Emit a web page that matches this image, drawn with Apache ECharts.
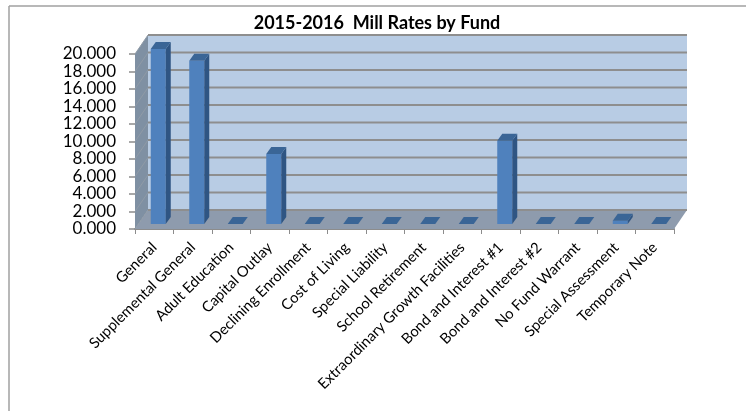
<!DOCTYPE html>
<html><head><meta charset="utf-8">
<style>html,body{margin:0;padding:0;background:#fff}#c{width:746px;height:411px}</style>
<script src="https://cdn.jsdelivr.net/npm/echarts@6/dist/echarts.min.js"></script>
</head><body><div id="c"></div>
<script>
const titleText = '2015-2016  Mill Rates by Fund';
const categories = ['General','Supplemental General','Adult Education','Capital Outlay','Declining Enrollment','Cost of Living','Special Liability','School Retirement','Extraordinary Growth Facilities','Bond and Interest #1','Bond and Interest #2','No Fund Warrant','Special Assessment','Temporary Note'];
const millRates = [20.0,18.66,0,8.0,0,0,0,0,0,9.52,0,0,0.38,0];
const yTicks = [0,2,4,6,8,10,12,14,16,18,20];

const WALL_DX = 13, WALL_DY = -19;
const BAR_OX = 4, BAR_OY = -5, BAR_W = 15, BAR_DX = 5, BAR_DY = -7;
const chart = echarts.init(document.getElementById('c'), null, {renderer:'canvas'});
const font = 'Lato';

function poly(points, fill, z2){
  return {type:'polygon', shape:{points}, style:{fill, stroke:null}, z2:z2||0};
}
function renderWalls(params, api){
  const c = params.coordSys;
  const l=c.x, r=c.x+c.width, t=c.y, b=c.y+c.height;
  return {type:'group', children:[
    poly([[l+WALL_DX,t+WALL_DY],[r+WALL_DX,t+WALL_DY],[r+WALL_DX,b+WALL_DY],[l+WALL_DX,b+WALL_DY]],'#b8cce4'),
    poly([[l,b],[l+WALL_DX,b+WALL_DY],[l+WALL_DX,t+WALL_DY],[l,t]],'#7f90a3'),
    poly([[l,b],[r,b],[r+WALL_DX,b+WALL_DY],[l+WALL_DX,b+WALL_DY]],'#8e9bad')
  ]};
}
function renderGrid(params, api){
  const c = params.coordSys;
  const y = api.coord([0, api.value(0)])[1];
  const l=c.x, r=c.x+c.width;
  return {type:'group', children:[
    {type:'line', shape:{x1:l,y1:y,x2:l+WALL_DX,y2:y+WALL_DY}, style:{stroke:'#8f9aa6',lineWidth:1}},
    {type:'line', shape:{x1:l+WALL_DX,y1:y+WALL_DY,x2:r+WALL_DX,y2:y+WALL_DY}, style:{stroke:'#8e8e8e',lineWidth:1.8}}
  ]};
}
function renderBar(params, api){
  const p0 = api.coord([api.value(0), 0]);
  const p1 = api.coord([api.value(0), api.value(1)]);
  const x0 = p0[0]+BAR_OX-BAR_W/2, x1 = x0+BAR_W;
  const yb = p0[1]+BAR_OY, yt = p1[1]+BAR_OY;
  const kids = [];
  if (yb-yt > 0.5){
    kids.push(poly([[x0,yb],[x1,yb],[x1,yt],[x0,yt]],'#4f81bd'));
    kids.push(poly([[x1,yb],[x1+BAR_DX,yb+BAR_DY],[x1+BAR_DX,yt+BAR_DY],[x1,yt]],'#2f5583'));
  }
  kids.push(poly([[x0,yt],[x1,yt],[x1+BAR_DX,yt+BAR_DY],[x0+BAR_DX,yt+BAR_DY]],'#3a6596'));
  return {type:'group', children:kids};
}
chart.setOption({
  animation:false,
  backgroundColor:'#ffffff',
  title:{text:titleText, left:372, top:9, textAlign:'center',
    textStyle:{fontFamily:font,fontSize:18,fontWeight:'bold',color:'#000'}},
  grid:{left:135,right:72,top:54,bottom:182,containLabel:false},
  xAxis:{type:'category',data:categories,
    axisLine:{show:true,onZero:false,lineStyle:{color:'#8c8c8c',width:2}},
    axisTick:{show:true,length:5,alignWithLabel:false,lineStyle:{color:'#8c8c8c',width:1}},
    axisLabel:{interval:0,rotate:45,margin:16,fontFamily:font,fontSize:14.8,color:'#000',hideOverlap:false},
    splitLine:{show:false}},
  yAxis:{type:'value',min:0,max:20,interval:2,
    axisLine:{show:true,lineStyle:{color:'#8c8c8c',width:1}},
    axisTick:{show:true,length:6,lineStyle:{color:'#8c8c8c',width:1.5}},
    axisLabel:{margin:19,fontFamily:font,fontSize:17,color:'#000',formatter:v=>v.toFixed(3),showMinLabel:true,showMaxLabel:true,hideOverlap:false},
    splitLine:{show:false}},
  series:[
    {type:'custom',name:'walls',renderItem:renderWalls,data:[0],z:1,silent:true,clip:false,encode:{x:-1,y:-1}},
    {type:'custom',name:'grid',renderItem:renderGrid,data:yTicks.map(v=>[v]),z:2,silent:true,clip:false,encode:{y:0,x:-1}},
    {type:'custom',name:'Mill Rate',renderItem:renderBar,data:millRates.map((v,i)=>[i,v]),z:3,clip:false,encode:{x:0,y:1}}
  ],
  graphic:[
    {type:'line',shape:{x1:9,y1:6,x2:746,y2:6},style:{stroke:'#a0a0a0',lineWidth:1.5},silent:true},
    {type:'line',shape:{x1:9,y1:6,x2:9,y2:411},style:{stroke:'#a0a0a0',lineWidth:1.5},silent:true}
  ]
});
</script></body></html>
